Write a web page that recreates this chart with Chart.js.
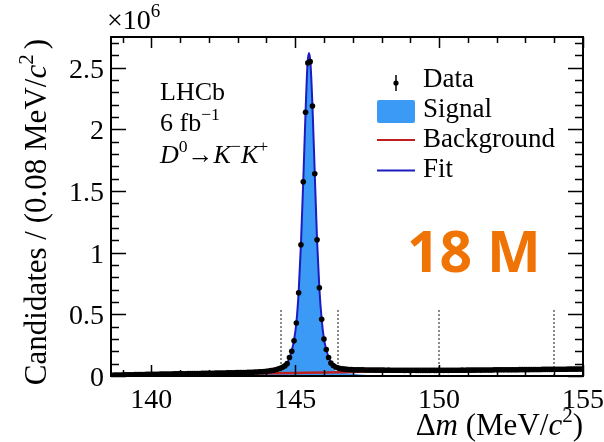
<!DOCTYPE html>
<html><head><meta charset="utf-8">
<script src="https://cdn.jsdelivr.net/npm/chart.js@4"></script>
<style>html,body{margin:0;padding:0;background:#fff;}#wrap{width:604px;height:442px;}</style>
</head><body><div id="wrap"><canvas id="c" width="604" height="442"></canvas></div>
<script>
// ---- binning (axis title: 0.08 MeV/c^2 per bin) ----
const binStart = 138.6;
const binWidth = 0.08;
// ---- data: candidates per bin, in units of 10^6 ----
const dataCounts = [
 0.006,0.007,0.007,0.008,0.008,0.009,0.009,0.010,0.010,0.010,0.011,0.011,0.012,
 0.012,0.012,0.013,0.013,0.013,0.014,0.014,0.014,0.015,0.015,0.015,0.016,
 0.016,0.016,0.017,0.017,0.017,0.018,0.018,0.018,0.019,0.019,0.019,0.020,0.020,
 0.020,0.021,0.021,0.021,0.022,0.022,0.022,0.023,0.023,0.024,0.024,0.024,
 0.025,0.025,0.026,0.026,0.027,0.027,0.028,0.028,0.029,0.030,0.030,0.031,0.032,
 0.033,0.034,0.035,0.037,0.039,0.041,0.044,0.047,0.051,0.056,0.062,0.070,
 0.082,0.100,0.150,0.200,0.285,0.430,0.675,1.065,1.575,2.140,
 2.540,2.550,2.190,1.640,1.105,0.715,0.460,0.300,0.215,0.150,
 0.105,0.085,0.073,0.066,0.061,0.058,0.056,0.054,0.053,0.052,
 0.051,0.051,0.050,0.050,0.050,0.049,0.049,0.049,0.049,0.048,
 0.048,0.048,0.048,0.048,0.047,0.048,0.047,0.047,0.047,0.047,
 0.047,0.047,0.046,0.047,0.046,0.046,0.047,0.046,0.046,0.046,
 0.046,0.046,0.046,0.046,0.047,0.046,0.046,0.046,0.047,0.046,
 0.047,0.046,0.047,0.047,0.047,0.047,0.047,0.048,0.047,0.048,
 0.048,0.048,0.048,0.048,0.049,0.048,0.049,0.049,0.049,0.049,
 0.049,0.050,0.050,0.050,0.050,0.050,0.051,0.050,0.051,0.051,
 0.051,0.051,0.052,0.052,0.052,0.052,0.052,0.053,0.053,0.053,
 0.053,0.053,0.054,0.054,0.054,0.054,0.054,0.055,0.055,0.055,
 0.055,0.055,0.055,0.056,0.056,0.056,0.056,0.056,0.057,0.057
];
// ---- fit components (units of 10^6) ----
const fitX = [138.6,139.6,140.6,141.6,142.6,143.6,144.0,144.3,144.5,144.64,144.72,144.80,144.88,144.96,145.04,145.12,145.20,145.28,145.36,145.43,145.48,145.53,145.60,145.68,145.76,145.84,145.92,146.00,146.08,146.16,146.24,146.32,146.44,146.6,146.8,147.0,147.5,148,149,150,151,152,153,154,155];
const fitY = [0.007,0.011,0.016,0.020,0.025,0.032,0.039,0.049,0.063,0.082,0.102,0.145,0.205,0.290,0.430,0.680,1.070,1.580,2.140,2.540,2.620,2.540,2.190,1.640,1.100,0.710,0.460,0.300,0.212,0.150,0.108,0.086,0.070,0.061,0.055,0.052,0.050,0.048,0.047,0.047,0.048,0.050,0.052,0.054,0.056];
const bkgX = [138.6,140,141,142,143,144,145,146,147,148,149,150,152,155];
const bkgY = [0.006,0.010,0.013,0.016,0.019,0.022,0.025,0.028,0.033,0.040,0.044,0.046,0.049,0.055];
const sigX = [142.0,143.0,143.6,144.0,144.3,144.5,144.64,144.72,144.80,144.88,144.96,145.04,145.12,145.20,145.28,145.36,145.43,145.48,145.53,145.60,145.68,145.76,145.84,145.92,146.00,146.08,146.16,146.24,146.32,146.44,146.6,146.8,147.0,147.5,148,149];
const sigY = [0.0,0.004,0.010,0.017,0.026,0.039,0.057,0.077,0.120,0.180,0.265,0.405,0.655,1.045,1.555,2.115,2.515,2.595,2.515,2.165,1.615,1.075,0.685,0.435,0.275,0.186,0.123,0.080,0.057,0.040,0.030,0.023,0.019,0.008,0.003,0.0];
// ---- decorations ----
const regionLines = [144.5, 146.5, 150, 154];
const regionTop = 0.54;
const xTicks = [140, 145, 150, 155];
const xTickLabels = ['140', '145', '150', '155'];
const yTicks = [0, 0.5, 1, 1.5, 2, 2.5];
const yTickLabels = ['0', '0.5', '1', '1.5', '2', '2.5'];
const legendLabels = ['Data', 'Signal', 'Background', 'Fit'];
const yieldText = '18 M';

const COL_SIG = '#3a9af6', COL_FIT = '#1c1cc0', COL_BKG = '#c01e1e';
const SERIF = '"Liberation Serif", "DejaVu Serif", serif';

const pts = (xs, ys) => xs.map((x, i) => ({x, y: ys[i]}));
const dataPts = dataCounts.map((v, i) => ({x: binStart + binWidth * (i + 0.5), y: v}));

function font(size, italic) { return (italic ? 'italic ' : '') + size + 'px ' + SERIF; }
function richWidth(ctx, segs, size) {
  let w = 0;
  for (const s of segs) { ctx.font = font(s.sup ? size * 0.68 : size, s.it); w += ctx.measureText(s.t).width + (s.gap || 0); }
  return w;
}
function drawRich(ctx, segs, x, y, size, align) {
  const w = richWidth(ctx, segs, size);
  let cx = align === 'right' ? x - w : align === 'center' ? x - w / 2 : x;
  ctx.textAlign = 'left'; ctx.textBaseline = 'alphabetic';
  for (const s of segs) {
    const sz = s.sup ? size * 0.68 : size;
    ctx.font = font(sz, s.it);
    ctx.fillText(s.t, cx, s.sup ? y - size * 0.42 : y);
    cx += ctx.measureText(s.t).width + (s.gap || 0);
  }
}

const deco = {
  id: 'deco',
  beforeDatasetsDraw(chart) {
    const {ctx, scales: {x, y}} = chart;
    ctx.save();
    ctx.strokeStyle = '#8a8a8a'; ctx.lineWidth = 2; ctx.setLineDash([2, 2]);
    for (const v of regionLines) {
      const px = Math.round(x.getPixelForValue(v));
      ctx.beginPath(); ctx.moveTo(px, y.getPixelForValue(0)); ctx.lineTo(px, y.getPixelForValue(regionTop)); ctx.stroke();
    }
    ctx.restore();
  },
  afterDatasetsDraw(chart) {
    const {ctx, chartArea: a, scales: {x, y}} = chart;
    ctx.save();
    ctx.strokeStyle = '#000'; ctx.lineWidth = 2;
    ctx.strokeRect(a.left, a.top, a.right - a.left, a.bottom - a.top);
    ctx.lineWidth = 1.5;
    ctx.beginPath();
    for (let k = 0; k <= 27; k++) {
      const v = k / 10, py = Math.round(y.getPixelForValue(v)) + 0.5;
      const len = (k % 5 === 0) ? 15 : 8;
      ctx.moveTo(a.left, py); ctx.lineTo(a.left + len, py);
      ctx.moveTo(a.right, py); ctx.lineTo(a.right - len, py);
    }
    for (let v = 139; v <= 155; v++) {
      const px = Math.round(x.getPixelForValue(v)) + 0.5;
      const len = (v % 5 === 0) ? 11 : 6;
      ctx.moveTo(px, a.bottom); ctx.lineTo(px, a.bottom - len);
      ctx.moveTo(px, a.top); ctx.lineTo(px, a.top + len);
    }
    ctx.stroke();
    ctx.restore();
  },
  afterDraw(chart) {
    const {ctx, chartArea: a, scales: {x, y}} = chart;
    ctx.save();
    ctx.fillStyle = '#000';
    // tick labels
    ctx.font = font(28); ctx.textAlign = 'right'; ctx.textBaseline = 'alphabetic';
    yTicks.forEach((v, i) => ctx.fillText(yTickLabels[i], a.left - 7, y.getPixelForValue(v) + 10));
    ctx.textAlign = 'center';
    xTicks.forEach((v, i) => ctx.fillText(xTickLabels[i], x.getPixelForValue(v), 408));
    // exponent
    drawRich(ctx, [{t: '\u00d710'}, {t: '6', sup: true}], 107, 29, 28, 'left');
    // axis titles
    drawRich(ctx, [{t: '\u0394'}, {t: 'm', it: true}, {t: ' (MeV/'}, {t: 'c', it: true}, {t: '2', sup: true}, {t: ')'}], a.right, 435, 31, 'right');
    ctx.save();
    ctx.translate(46, 39); ctx.rotate(-Math.PI / 2);
    drawRich(ctx, [{t: 'Candidates / (0.08 MeV/'}, {t: 'c', it: true}, {t: '2', sup: true, gap: 5}, {t: ')'}], 0, 0, 31, 'right');
    ctx.restore();
    // LHCb label
    drawRich(ctx, [{t: 'LHCb'}], 160, 100, 26, 'left');
    drawRich(ctx, [{t: '6 fb'}, {t: '\u22121', sup: true}], 160, 131, 26, 'left');
    drawRich(ctx, [{t: 'D', it: true}, {t: '0', sup: true}, {t: '\u2192'}, {t: 'K', it: true}, {t: '\u2212', sup: true}, {t: 'K', it: true}, {t: '+', sup: true}], 160, 163, 26, 'left');
    // legend
    const lx = 423, base = [87, 117, 147, 177];
    ctx.font = font(27); ctx.textAlign = 'left'; ctx.textBaseline = 'alphabetic';
    legendLabels.forEach((t, i) => ctx.fillText(t, lx, base[i]));
    ctx.strokeStyle = '#000'; ctx.lineWidth = 1.5;
    ctx.beginPath(); ctx.moveTo(396, 75); ctx.lineTo(396, 91); ctx.stroke();
    ctx.beginPath(); ctx.arc(396, 83, 2.6, 0, Math.PI * 2); ctx.fill();
    ctx.fillStyle = COL_SIG;
    ctx.beginPath(); ctx.roundRect ? ctx.roundRect(377, 100, 38, 23, 2) : ctx.rect(377, 100, 38, 23); ctx.fill();
    ctx.lineWidth = 2;
    ctx.strokeStyle = COL_BKG; ctx.beginPath(); ctx.moveTo(377, 140); ctx.lineTo(415, 140); ctx.stroke();
    ctx.strokeStyle = COL_FIT; ctx.beginPath(); ctx.moveTo(377, 170.5); ctx.lineTo(415, 170.5); ctx.stroke();
    // yield annotation
    ctx.fillStyle = '#ef7405'; ctx.font = '700 57px "Open Sans", "Noto Sans", sans-serif';
    ctx.textAlign = 'left'; ctx.textBaseline = 'alphabetic';
    ctx.fillText(yieldText, 407, 272);
    ctx.restore();
  }
};

new Chart(document.getElementById('c'), {
  type: 'line',
  data: {
    datasets: [
      {label: 'Data', data: dataPts, showLine: false, pointRadius: 2.8, pointBackgroundColor: '#000', pointBorderWidth: 0, order: 0},
      {label: 'Fit', data: pts(fitX, fitY), borderColor: COL_FIT, borderWidth: 2, pointRadius: 0, cubicInterpolationMode: 'monotone', fill: false, order: 1},
      {label: 'Background', data: pts(bkgX, bkgY), borderColor: COL_BKG, borderWidth: 2.5, pointRadius: 0, cubicInterpolationMode: 'monotone', fill: false, order: 2},
      {label: 'Signal', data: pts(sigX, sigY), borderWidth: 0, borderColor: 'rgba(0,0,0,0)', backgroundColor: COL_SIG, pointRadius: 0, cubicInterpolationMode: 'monotone', fill: 'origin', order: 3}
    ]
  },
  options: {
    responsive: false, animation: false, devicePixelRatio: 1,
    layout: {padding: {top: 37, right: 21, left: 0, bottom: 0}},
    plugins: {legend: {display: false}, tooltip: {enabled: false}},
    scales: {
      x: {type: 'linear', min: 138.6, max: 155, grid: {display: false}, border: {display: false}, ticks: {display: false},
          afterFit(s) { s.height = 66; }},
      y: {type: 'linear', min: 0, max: 2.75, grid: {display: false}, border: {display: false}, ticks: {display: false},
          afterFit(s) { s.width = 111; }}
    }
  },
  plugins: [deco]
});
</script>
</body></html>
